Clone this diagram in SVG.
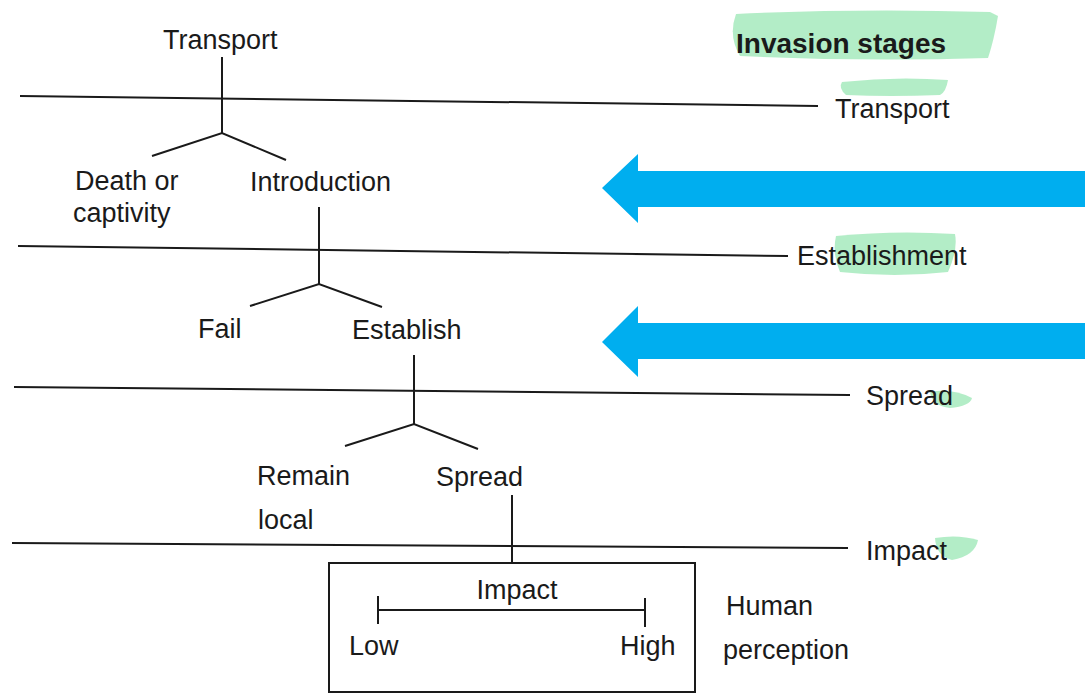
<svg xmlns="http://www.w3.org/2000/svg" width="1087" height="699" viewBox="0 0 1087 699">
<style>
text{font-family:"Liberation Sans",Arial,sans-serif;font-size:27px;fill:#1a1a1a}
.b{font-weight:bold;font-size:28px}
.ln{stroke:#1a1a1a;stroke-width:2;fill:none}
.hl{fill:#a6eabd;opacity:0.85}
.arr{fill:#00AEEF}
</style>
<rect width="1087" height="699" fill="#fff"/>
<g id="highlights">
<path class="hl" d="M736,14 Q860,8 990,12 L998,16 Q994,40 988,58 Q860,62 740,56 Q728,36 736,14Z"/>
<path class="hl" d="M842,82 Q895,76 948,80 Q946,92 940,95 Q890,97 846,95 Q838,88 842,82Z"/>
<path class="hl" d="M836,236 Q895,230 955,234 Q958,250 948,272 Q895,278 840,272 Q832,254 836,236Z"/>
<path class="hl" d="M930,392 Q952,388 972,398 Q970,406 950,408 Q932,406 930,392Z"/>
<path class="hl" d="M935,538 Q958,534 978,540 Q975,556 952,560 Q936,556 935,538Z"/>
</g>
<g id="stage-lines">
<line class="ln" x1="20" y1="96" x2="818" y2="106"/>
<line class="ln" x1="18" y1="246" x2="788" y2="256"/>
<line class="ln" x1="14" y1="387" x2="850" y2="395"/>
<line class="ln" x1="12" y1="543" x2="848" y2="548"/>
</g>
<g id="stage-labels">
<text class="b" x="736" y="53">Invasion stages</text>
<text x="835" y="118">Transport</text>
<text x="797" y="265">Establishment</text>
<text x="866" y="405">Spread</text>
<text x="866" y="560">Impact</text>
</g>
<g id="arrows">
<polygon class="arr" points="602,188 638,154 638,171 1085,171 1085,207 638,207 638,223"/>
<polygon class="arr" points="602,342 638,306 638,323 1085,323 1085,359 638,359 638,377"/>
</g>
<g id="connectors">
<polyline class="ln" points="222,57 222,133"/>
<polyline class="ln" points="152,156 222,133 286,160"/>
<polyline class="ln" points="319,207 319,284"/>
<polyline class="ln" points="250,306 319,284 382,307"/>
<polyline class="ln" points="414,355 414,424"/>
<polyline class="ln" points="345,446 414,424 478,449"/>
<polyline class="ln" points="512,495 512,563"/>
</g>
<g id="node-transport"><text x="163" y="49">Transport</text></g>
<g id="node-death"><text x="75" y="190">Death or</text><text x="73" y="222">captivity</text></g>
<g id="node-introduction"><text x="250" y="191">Introduction</text></g>
<g id="node-fail"><text x="198" y="338">Fail</text></g>
<g id="node-establish"><text x="352" y="339">Establish</text></g>
<g id="node-remain"><text x="257" y="485">Remain</text><text x="258" y="529">local</text></g>
<g id="node-spread"><text x="436" y="486">Spread</text></g>
<g id="node-impact">
<rect x="329" y="563" width="366" height="129" class="ln"/>
<line class="ln" x1="378" y1="610" x2="645" y2="610"/>
<line class="ln" x1="378" y1="596" x2="378" y2="624"/>
<line class="ln" x1="645" y1="598" x2="645" y2="627"/>
<text x="517" y="599" text-anchor="middle">Impact</text>
<text x="349" y="655">Low</text>
<text x="620" y="655">High</text>
</g>
<g id="node-human"><text x="726" y="615">Human</text><text x="723" y="659">perception</text></g>
</svg>
